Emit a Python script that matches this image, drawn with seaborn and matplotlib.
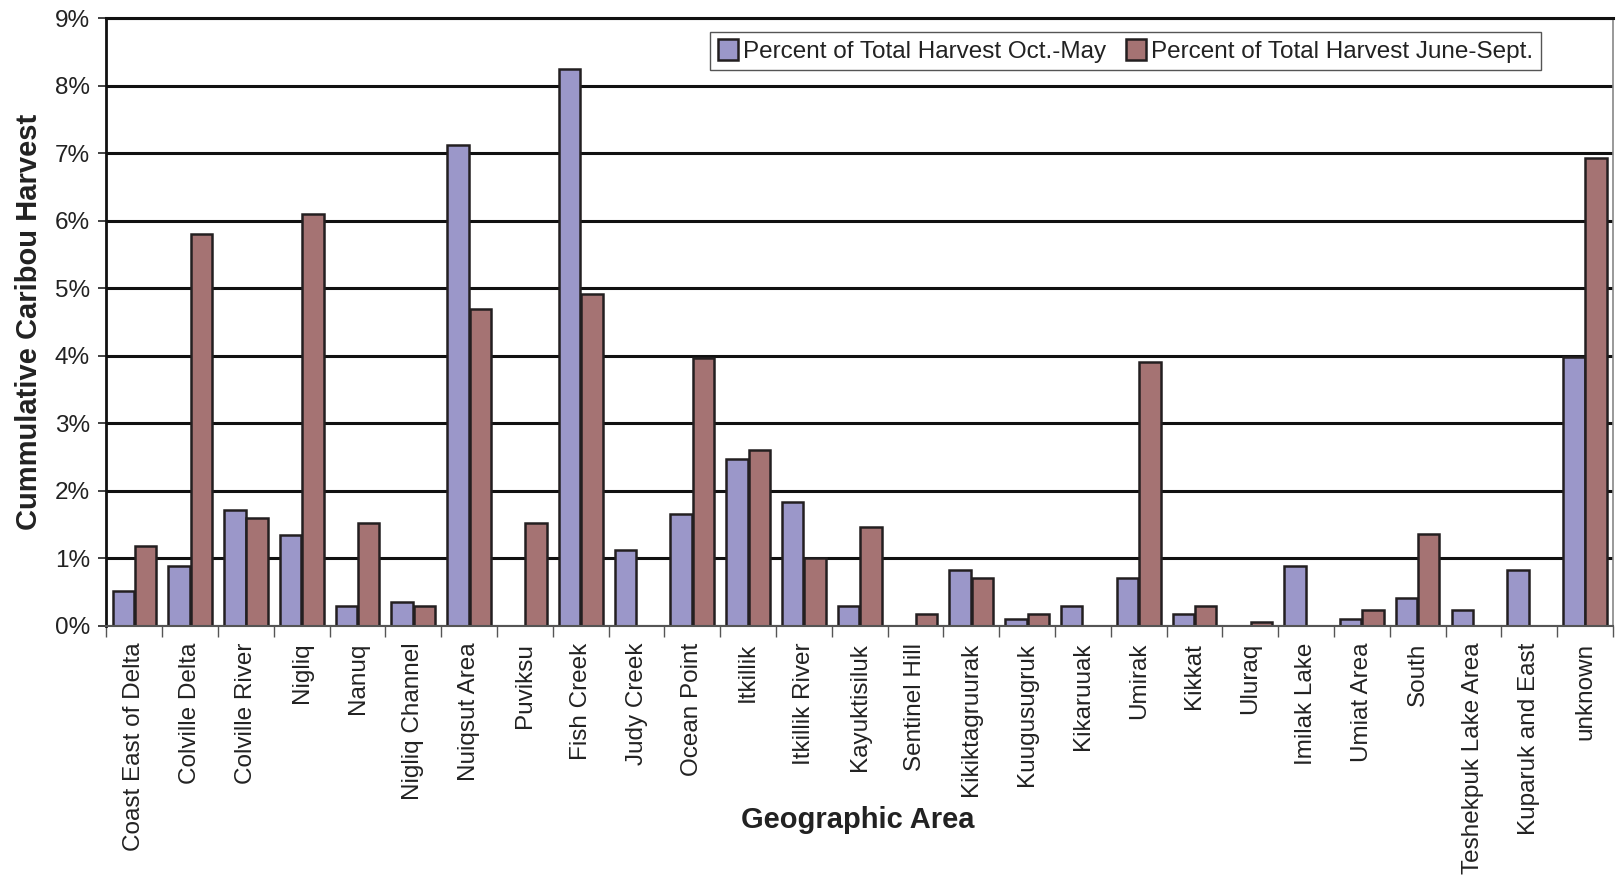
import matplotlib
matplotlib.use("Agg")
import matplotlib.pyplot as plt
import seaborn as sns
import pandas as pd
import numpy as np
from matplotlib.ticker import FuncFormatter, FixedLocator

areas = [
    "Coast East of Delta", "Colville Delta", "Colville River", "Nigliq", "Nanuq",
    "Nigliq Channel", "Nuiqsut Area", "Puviksu", "Fish Creek", "Judy Creek",
    "Ocean Point", "Itkillik", "Itkillik River", "Kayuktisiluk", "Sentinel Hill",
    "Kikiktagruurak", "Kuugusugruk", "Kikaruuak", "Umirak", "Kikkat", "Uluraq",
    "Imilak Lake", "Umiat Area", "South", "Teshekpuk Lake Area", "Kuparuk and East",
    "unknown",
]
oct_may = [0.52, 0.89, 1.72, 1.35, 0.29, 0.35, 7.12, 0.0, 8.25, 1.12,
           1.66, 2.48, 1.83, 0.29, 0.0, 0.83, 0.11, 0.29, 0.71, 0.17,
           0.0, 0.89, 0.11, 0.41, 0.23, 0.83, 3.98]
june_sept = [1.18, 5.81, 1.60, 6.10, 1.53, 0.29, 4.69, 1.53, 4.92, 0.0,
             3.97, 2.61, 1.00, 1.47, 0.17, 0.71, 0.17, 0.0, 3.91, 0.29,
             0.06, 0.0, 0.23, 1.36, 0.0, 0.0, 6.94]
series_names = ["Percent of Total Harvest Oct.-May",
                "Percent of Total Harvest June-Sept."]
colors = ["#9b97c9", "#a57373"]

df = pd.DataFrame({
    "Area": areas * 2,
    "Percent": oct_may + june_sept,
    "Season": [series_names[0]] * len(areas) + [series_names[1]] * len(areas),
})

sns.set_style("white")
plt.rcParams["font.family"] = ["Liberation Sans", "DejaVu Sans"]

fig = plt.figure(figsize=(16.21, 8.85), dpi=100)
ax = fig.add_axes([0.0657, 0.2927, 0.9293, 0.6864])

sns.barplot(data=df, x="Area", y="Percent", hue="Season", order=areas,
            hue_order=series_names, palette=colors, width=0.8, gap=0.04,
            edgecolor="#231f20", linewidth=1.8, saturation=1, ax=ax,
            legend=True)

ax.set_ylim(0, 9)
ax.set_xlim(-0.5, len(areas) - 0.5)
ax.yaxis.set_major_locator(FixedLocator(np.arange(0, 10, 1)))
ax.yaxis.set_major_formatter(FuncFormatter(lambda v, p: f"{int(round(v))}%"))
ax.set_axisbelow(True)
ax.grid(axis="y", color="#111111", linewidth=2.2)
ax.grid(axis="x", visible=False)

# category boundary ticks on x axis
ax.set_xticks(np.arange(-0.5, len(areas), 1), minor=True)
ax.tick_params(axis="x", which="minor", length=8, width=1, color="#555555",
               direction="out", bottom=True)
ax.tick_params(axis="x", which="major", length=0, pad=12, labelsize=17.5,
               labelcolor="#222222", labelrotation=90)
ax.tick_params(axis="y", which="major", length=6, width=1.2, color="#222222",
               left=True, labelsize=17.5, labelcolor="#222222", pad=6)

for side, sp in ax.spines.items():
    sp.set_visible(True)
ax.spines["left"].set_color("#111111")
ax.spines["left"].set_linewidth(2)
ax.spines["top"].set_color("#111111")
ax.spines["top"].set_linewidth(2.2)
ax.spines["bottom"].set_color("#555555")
ax.spines["bottom"].set_linewidth(1.5)
ax.spines["right"].set_color("#888888")
ax.spines["right"].set_linewidth(1.2)

ax.set_ylabel("Cummulative Caribou Harvest", fontsize=21, fontweight="bold",
              color="#222222")
ax.yaxis.set_label_coords(-0.042, 0.5)
ax.set_xlabel("Geographic Area", fontsize=21, fontweight="bold", color="#222222")
ax.xaxis.set_label_coords(0.4985, -0.296)

leg = ax.legend(loc="upper right", bbox_to_anchor=(0.952, 0.978), ncol=2,
                fontsize=17.5, frameon=True, fancybox=False, shadow=False,
                handlelength=0.85, handleheight=0.95, handletextpad=0.2,
                columnspacing=0.8, borderpad=0.3, borderaxespad=0)
leg.get_frame().set_edgecolor("#555555")
leg.get_frame().set_linewidth(1.0)
leg.get_frame().set_alpha(1)
for t in leg.get_texts():
    t.set_color("#222222")

fig.savefig("out.png", dpi=100)
